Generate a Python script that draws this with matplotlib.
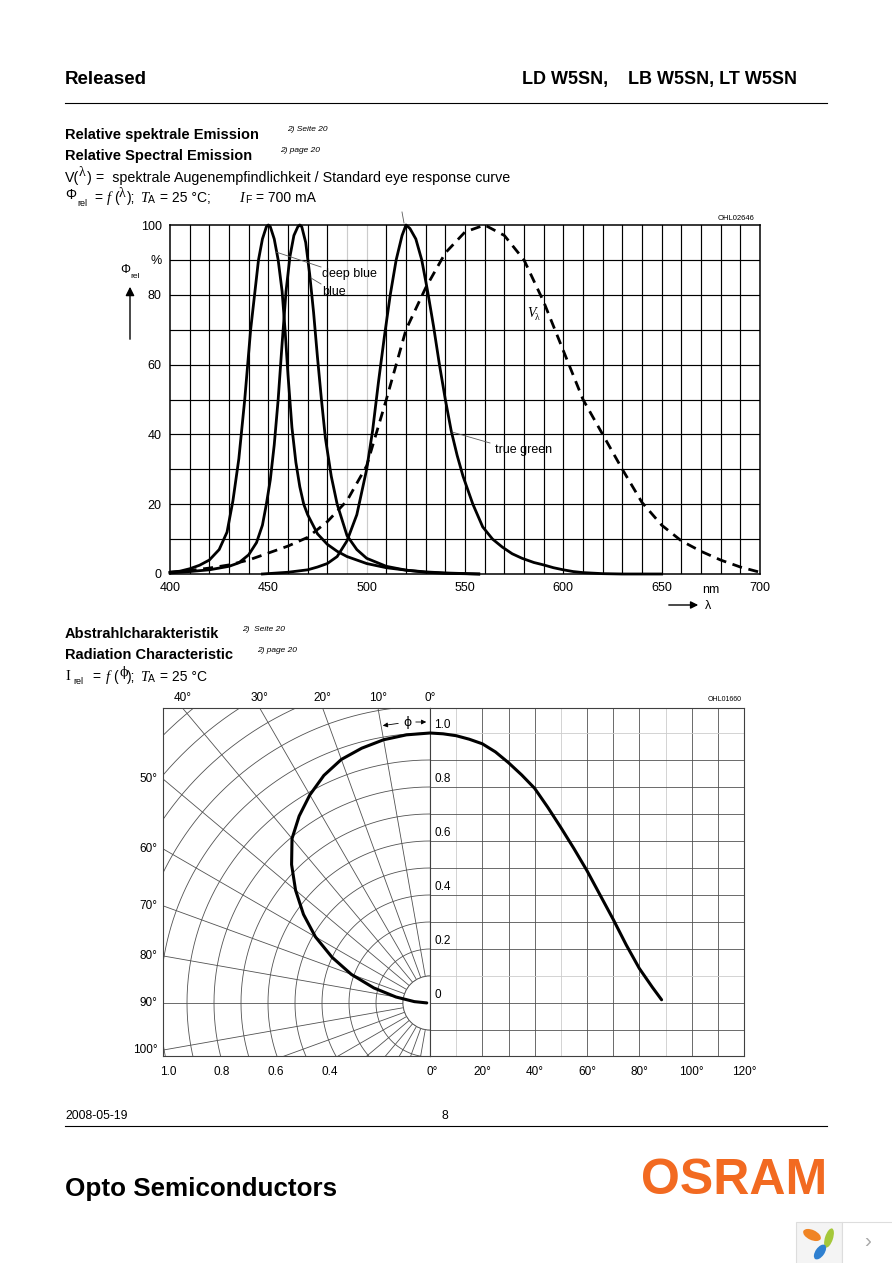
import numpy as np
import matplotlib
matplotlib.use("Agg")
from matplotlib import pyplot
from matplotlib.patches import Circle, Ellipse, Rectangle
from matplotlib.transforms import blended_transform_factory

#: Output size in pixels
WIDTH, HEIGHT = 892, 1263
DPI = 100

# Relative spectral emission (nm, %)
deep_blue_nm = [400, 405, 410, 415, 420, 425, 429, 432, 435, 438, 441, 443, 445, 447, 449, 450,
                451, 453, 455, 457, 458.5, 460, 462, 464, 466, 468, 470, 475, 480, 485, 490,
                500, 510, 520, 530, 540, 557]
deep_blue = [0.5, 0.8, 1.5, 2.5, 4, 7, 12, 21, 33, 50, 70, 80, 90, 96, 99.5, 100,
             99.5, 96, 90, 81, 70, 57, 42, 32, 25, 20, 17, 11.5, 8.5, 6.5, 5,
             3, 1.8, 1.1, 0.6, 0.3, 0]

blue_nm = [400, 410, 420, 430, 435, 440, 444, 447, 449, 451, 453, 455, 457, 459, 461, 463, 465,
           466, 467, 469, 471, 473, 475, 477, 479, 482, 485, 490, 495, 500, 510, 520, 530,
           540, 557]
blue = [0.3, 0.7, 1.2, 2.2, 3.2, 5.5, 9, 14, 20, 27, 37, 50, 66, 81, 91, 97, 99.5,
        100, 99.5, 95, 86, 75, 62, 50, 39, 28, 20, 11, 7, 4.5, 2.2, 1.1, 0.5,
        0.2, 0]

true_green_nm = [447, 460, 470, 475, 480, 485, 490, 495, 500, 503, 506, 509, 512, 515, 518, 520,
                 522, 525, 528, 531, 534, 537, 540, 543, 546, 549, 554, 559, 564, 569, 574,
                 579, 585, 590, 595, 600, 605, 610, 620, 630, 650]
true_green = [0, 0.5, 1.2, 2, 3, 5, 9.5, 17, 30, 41, 55, 68, 80, 90, 97, 100,
              99, 96, 90, 81, 71, 60, 50, 41, 34, 28, 20, 13.5, 10, 7.7, 5.8,
              4.5, 3.3, 2.6, 1.8, 1.2, 0.7, 0.4, 0.1, 0, 0]

v_lambda_nm = [400, 410, 420, 430, 440, 450, 460, 470, 480, 490, 500, 510, 520, 530, 540, 550,
               560, 570, 580, 590, 600, 610, 620, 630, 640, 650, 660, 670, 680, 690, 700]
v_lambda = [0.5, 1, 1.7, 2.6, 4, 6, 8, 10.5, 15, 21, 31, 50, 70, 82, 92, 98,
            100, 97, 90, 78, 64, 50, 40, 30, 20.5, 14, 9.5, 6.5, 4, 2, 0.5]

spectral_xticks = [400, 450, 500, 550, 600, 650, 700]
spectral_yticks = [0, 20, 40, 60, 80, 90, 100]
spectral_ylabels = ['0', '20', '40', '60', '80', '%', '100']

# Radiation characteristic (deg, I_rel)
angle_deg = [0, 5, 10, 15, 20, 25, 30, 35, 40, 45, 50, 55, 60, 65, 70, 75, 80, 85, 88.5]
i_rel = [1.0, 0.997, 0.99, 0.977, 0.96, 0.93, 0.89, 0.845, 0.795, 0.725, 0.65, 0.572,
         0.49, 0.40, 0.31, 0.215, 0.128, 0.058, 0.012]

polar_top_angles = [0, 10, 20, 30, 40]
polar_side_angles = [50, 60, 70, 80, 90, 100]
polar_radius_labels = [1.0, 0.8, 0.6, 0.4]
linear_xticks = [20, 40, 60, 80, 100, 120]
linear_ylabels = [1.0, 0.8, 0.6, 0.4, 0.2, 0]

SERIF_IT = dict(family=['Liberation Serif', 'DejaVu Serif'], style='italic')
GRID = '0.32'
LIGHT = '0.8'

pyplot.rcParams['font.family'] = ['Liberation Sans', 'DejaVu Sans']


def box(left, top, right, bottom):
    """Axes rectangle from pixel edges (y measured from the top)."""
    return [left / WIDTH, 1 - bottom / HEIGHT, (right - left) / WIDTH, (bottom - top) / HEIGHT]


def spectral_chart(fig):
    axes = fig.add_axes(box(170, 225, 760, 574))

    for wl in range(410, 700, 10):
        color = LIGHT if wl in (490, 500) else 'k'
        axes.axvline(wl, color=color, lw=0.85, zorder=1)
    for v in range(10, 100, 10):
        axes.axhline(v, color='k', lw=0.85, zorder=1)

    axes.plot(v_lambda_nm, v_lambda, color='k', lw=2.0, dashes=(3.6, 2.4), zorder=3)
    for nm, val in ((deep_blue_nm, deep_blue), (blue_nm, blue), (true_green_nm, true_green)):
        axes.plot(nm, val, color='k', lw=2.0, zorder=3, clip_on=False)

    axes.set_xlim(400, 700)
    axes.set_ylim(0, 100)
    axes.set_xticks(spectral_xticks, labels=[str(v) for v in spectral_xticks])
    axes.set_yticks(spectral_yticks, labels=spectral_ylabels)
    axes.tick_params(length=0, labelsize=9, pad=6)
    for spine in axes.spines.values():
        spine.set_linewidth(1.1)
    return axes


def radiation_chart(fig):
    lo, hi = -53 / 270, 295 / 270

    # left half: polar diagram
    polar = fig.add_axes(box(163, 708, 430, 1056))
    polar.set_xlim(-267 / 270, 0)
    polar.set_ylim(lo, hi)
    phi = np.radians(np.linspace(0, 180, 361))
    for r in np.arange(0.1, 1.55, 0.1):
        polar.plot(-r * np.sin(phi), r * np.cos(phi), color=GRID, lw=0.6, zorder=1)
    for a in range(0, 180, 10):
        t = np.radians(a)
        polar.plot([-0.1 * np.sin(t), -2 * np.sin(t)], [0.1 * np.cos(t), 2 * np.cos(t)],
                   color=GRID, lw=0.6, zorder=1)
    polar.add_patch(Circle((0, 0), 0.1, fc='white', ec=GRID, lw=0.6, zorder=2))
    t = np.radians(angle_deg)
    polar.plot(-np.array(i_rel) * np.sin(t), np.array(i_rel) * np.cos(t), color='k', lw=2.2,
               zorder=4, solid_capstyle='round', solid_joinstyle='round')
    polar.set_xticks([])
    polar.set_yticks([])

    top = blended_transform_factory(polar.transData, polar.transAxes)
    for a in polar_top_angles:
        polar.text(-hi * np.tan(np.radians(a)), 1.012, f'{a}°', transform=top,
                   ha='center', va='bottom', fontsize=8.5)
    side = blended_transform_factory(polar.transAxes, polar.transData)
    for a in polar_side_angles:
        polar.text(-0.02, (267 / 270) / np.tan(np.radians(a)), f'{a}°', transform=side,
                   ha='right', va='center', fontsize=8.5)
    for r in polar_radius_labels:
        polar.text(-r + 0.03, -0.03, f'{r:.1f}', transform=top, ha='center', va='top',
                   fontsize=8.5)
    polar.text(0.008, -0.03, '0°', transform=top, ha='center', va='top', fontsize=8.5)

    # right half: linear diagram
    linear = fig.add_axes(box(430, 708, 744, 1056))
    linear.set_xlim(0, 120)
    linear.set_ylim(lo, hi)
    for a in range(10, 120, 10):
        linear.axvline(a, color=LIGHT if a in (10, 50, 90) else GRID, lw=0.6, zorder=1)
    for v in np.arange(-0.1, 1.05, 0.1):
        v = round(v, 1)
        linear.axhline(v, color=LIGHT if v in (1.0, 0.1) else GRID, lw=0.6, zorder=1)
    linear.plot(angle_deg, i_rel, color='k', lw=2.2, zorder=4, solid_capstyle='round',
                solid_joinstyle='round')
    for v in linear_ylabels:
        linear.text(1.6, v + 0.008, f'{v:.1f}' if v else '0', ha='left', va='bottom',
                    fontsize=8.5)
    linear.set_xticks(linear_xticks, labels=[f'{v}°' for v in linear_xticks])
    linear.set_yticks([])
    linear.tick_params(length=0, labelsize=8.5, pad=7)

    for ax in (polar, linear):
        for spine in ax.spines.values():
            spine.set_linewidth(0.8)
            spine.set_color('0.25')


def page_text(fig):
    ov = fig.add_axes([0, 0, 1, 1])
    ov.set_xlim(0, WIDTH)
    ov.set_ylim(HEIGHT, 0)
    ov.axis('off')
    ov.patch.set_alpha(0)

    def put(x, y, s, size=10, **kw):
        kw.setdefault('va', 'baseline')
        ov.text(x, y, s, fontsize=size, **kw)

    def rule(x0, x1, y):
        ov.plot([x0, x1], [y, y], color='k', lw=0.8)

    # header
    put(65, 84, 'Released', 13.5, weight='bold')
    put(522, 84, 'LD W5SN,', 13, weight='bold')
    put(797, 84, 'LB W5SN, LT W5SN', 13, weight='bold', ha='right')
    rule(65, 827, 103)

    # spectral emission title block
    put(65, 139, 'Relative spektrale Emission', 10.5, weight='bold')
    put(287, 131, '2) Seite 20', 6, style='italic')
    put(65, 160, 'Relative Spectral Emission', 10.5, weight='bold')
    put(280, 152, '2) page 20', 6, style='italic')
    put(65, 182, 'V(', 10.3)
    put(79, 176, 'λ', 10, family=['Liberation Serif'])
    put(87, 182, ') =  spektrale Augenempfindlichkeit / Standard eye response curve', 10.3)
    put(65, 199, 'Φ', 10)
    put(77, 206, 'rel', 6.5)
    put(94, 202, '=', 10)
    put(107, 202, 'f', 10.5, **SERIF_IT)
    put(114, 202, '(', 10)
    put(119, 197, 'λ', 10, family=['Liberation Serif'])
    put(127, 202, ');', 10)
    put(140, 202, 'T', 10.5, **SERIF_IT)
    put(148, 203, 'A', 7.5)
    put(160, 202, '= 25 °C;', 10)
    put(239, 202, 'I', 10.5, **SERIF_IT)
    put(245, 203, 'F', 7.5)
    put(256, 202, '= 700 mA', 10)

    put(755, 220, 'OHL02646', 5.5, ha='right')

    # spectral chart decorations
    ov.text(130, 270, 'Φ', fontsize=9, ha='right', va='center')
    ov.text(130, 277, 'rel', fontsize=6, ha='left', va='center')
    ov.annotate('', xy=(130, 284), xytext=(130, 342),
                arrowprops=dict(arrowstyle='-|>', color='k', lw=1.0, mutation_scale=13))
    put(711, 593, 'nm', 9, ha='center')
    ov.annotate('', xy=(701, 605), xytext=(666, 605),
                arrowprops=dict(arrowstyle='-|>', color='k', lw=1.0, mutation_scale=11))
    put(708, 609, 'λ', 9, ha='center')
    for x0, y0, x1, y1 in ((276, 252, 321, 267), (311, 278, 321, 284),
                           (452, 432, 490, 443), (402, 212, 404, 223)):
        ov.plot([x0, x1], [y0, y1], color='0.35', lw=0.6)
    put(322, 277, 'deep blue', 9)
    put(322, 295, 'blue', 9)
    put(495, 453, 'true green', 9)
    put(527, 317, 'V', 10, **SERIF_IT)
    put(535, 320, 'λ', 7, family=['Liberation Serif'])

    # radiation characteristic title block
    put(65, 638, 'Abstrahlcharakteristik', 10.5, weight='bold')
    put(242, 631, '2)  Seite 20', 6, style='italic')
    put(65, 659, 'Radiation Characteristic', 10.5, weight='bold')
    put(257, 652, '2) page 20', 6, style='italic')
    put(65, 680, 'I', 10.5, family=['Liberation Serif'])
    put(73, 684, 'rel', 6.5)
    put(92, 681, '=', 10)
    put(106, 681, 'f', 10.5, **SERIF_IT)
    put(113, 681, '(', 10)
    put(119, 676, 'ϕ', 9, family=['DejaVu Serif'])
    put(127, 681, ');', 10)
    put(140, 681, 'T', 10.5, **SERIF_IT)
    put(148, 682, 'A', 7.5)
    put(160, 681, '= 25 °C', 10)
    put(742, 701, 'OHL01660', 5.0, ha='right')

    # angle marker
    ov.annotate('', xy=(380, 726), xytext=(401, 723),
                arrowprops=dict(arrowstyle='-|>', color='k', lw=0.6, mutation_scale=7))
    ov.annotate('', xy=(429, 722), xytext=(413, 722),
                arrowprops=dict(arrowstyle='-|>', color='k', lw=0.6, mutation_scale=7))
    put(407, 726, 'ϕ', 9, ha='center', family=['DejaVu Sans'])

    # footer
    put(65, 1119, '2008-05-19', 8.8)
    put(445, 1119, '8', 8.8, ha='center')
    rule(65, 827, 1126)
    put(65, 1196, 'Opto Semiconductors', 18.7, weight='bold')
    put(827, 1194, 'OSRAM', 36, weight='bold', color='#f26a21', ha='right')

    # viewer badge in the corner
    ov.add_patch(Rectangle((796, 1222), 46, 45, fc='#f4f4f4', ec='#dddddd', lw=0.8))
    ov.add_patch(Rectangle((842, 1222), 52, 45, fc='white', ec='#dddddd', lw=0.8))
    ov.add_patch(Ellipse((812, 1235), 19, 10, angle=25, fc='#f08424', ec='none'))
    ov.add_patch(Ellipse((829, 1238), 8, 20, angle=18, fc='#a5c83a', ec='none'))
    ov.add_patch(Ellipse((820, 1252), 9, 17, angle=35, fc='#2f80d0', ec='none'))
    put(868, 1242, '›', 15, ha='center', va='center', color='#aaaaaa')


fig = pyplot.figure(figsize=(WIDTH / DPI, HEIGHT / DPI), dpi=DPI)
spectral_chart(fig)
radiation_chart(fig)
page_text(fig)
fig.savefig('out.png', dpi=DPI)
